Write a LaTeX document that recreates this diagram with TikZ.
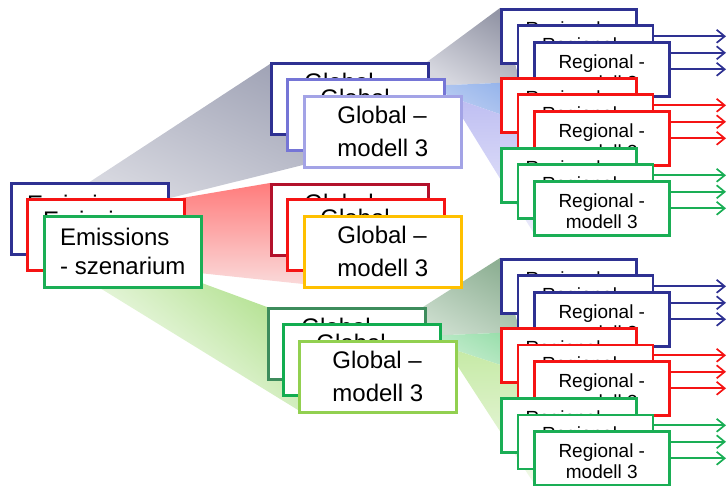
\documentclass[tikz,border=0pt]{standalone}
\usepackage{fontspec}
\setmainfont{Liberation Sans}
\usetikzlibrary{arrows.meta}

% stroke colours
\definecolor{navy}{HTML}{2E3192}
\definecolor{periw}{HTML}{7575D6}
\definecolor{lavb}{HTML}{A3A3E6}
\definecolor{crimson}{HTML}{B3112B}
\definecolor{rred}{HTML}{F51414}
\definecolor{gold}{HTML}{FFC000}
\definecolor{dgreen}{HTML}{3D8C5C}
\definecolor{mgreen}{HTML}{12AD50}
\definecolor{lgreen}{HTML}{92D050}
\definecolor{rgreen}{HTML}{1AAE55}
% fan colours
\definecolor{fanGrayA}{HTML}{A2A5B7}
\definecolor{fanGrayB}{HTML}{D6D7DF}
\definecolor{fanRedA}{HTML}{FF7C7C}
\definecolor{fanRedB}{HTML}{FAD9D9}
\definecolor{fanGreenA}{HTML}{ADDF88}
\definecolor{fanBlueA}{HTML}{8FB0EA}
\definecolor{fanBlueB}{HTML}{C8D6F4}
\definecolor{fanLavA}{HTML}{BFBFF2}
\definecolor{fanLavB}{HTML}{EBEBFB}
\definecolor{fanDkGrA}{HTML}{8DAF93}
\definecolor{fanDkGrB}{HTML}{CADCCC}
\definecolor{fanMdGrA}{HTML}{92DCA6}
\definecolor{fanMdGrB}{HTML}{D6F2DC}
\definecolor{fanLtGrA}{HTML}{C6EAA6}
\definecolor{fanLtGrB}{HTML}{F1F9E9}

\pgfdeclarelayer{fans}
\pgfdeclarelayer{links}
\pgfsetlayers{fans,links,main}

\tikzset{
  box/.style={draw, fill=white, line width=2.6pt, anchor=north west, inner sep=0pt},
  bigbox/.style={box, minimum width=157pt, minimum height=71pt, align=left,
    font={\fontsize{24}{29}\selectfont}},
  globbox/.style={bigbox, font={\fontsize{24}{33}\selectfont}},
  regbox/.style={box, minimum width=135pt, minimum height=54pt, align=center,
    font={\fontsize{19}{21}\selectfont}},
  flow/.style={line width=1.7pt, -{Straight Barb[length=8pt,width=13pt,line width=1.7pt]}},
  fan/.style={draw=none},
}

\begin{document}
\begin{tikzpicture}[x=1pt, y=-1pt]
\useasboundingbox (0,0) rectangle (728,486);
\coordinate (tip) at (726,0);

% ---------- shaded fans behind the boxes ----------
\begin{pgfonlayer}{fans}
  % scenario -> global stack (top)
  \shade[fan, top color=fanGrayA, bottom color=fanGrayB, shading angle=-25]
    (85,185) -- (270,64) -- (320,100) -- (320,160) -- (303,165) -- (170,198) -- cycle;
  % scenario -> global stack (middle)
  \shade[fan, top color=fanRedA, bottom color=fanRedB]
    (170,200) -- (270,183) -- (320,220) -- (320,280) -- (303,284) -- (180,271) -- cycle;
  % scenario -> global stack (bottom)
  \shade[fan, top color=fanGreenA, bottom color=white, shading angle=-40]
    (180,275) -- (267,307) -- (320,330) -- (320,400) -- (298,410) -- (95,285) -- cycle;

  % global (top) -> regional stacks
  \shade[fan, top color=fanGrayA!90!black, bottom color=fanGrayB, shading angle=-30]
    (427,62) -- (500,8) -- (520,82) -- (427,86) -- cycle;
  \shade[fan, top color=fanBlueA, bottom color=fanBlueB, shading angle=-30]
    (427,86) -- (520,82) -- (540,128) -- (459,100) -- cycle;
  \shade[fan, top color=fanLavA, bottom color=fanLavB]
    (459,100) -- (540,128) -- (540,200) -- (533,232) -- (459,112) -- cycle;

  % global (bottom) -> regional stacks
  \shade[fan, top color=fanDkGrA, bottom color=fanDkGrB, shading angle=-30]
    (423,307) -- (500,258) -- (520,332) -- (423,336) -- cycle;
  \shade[fan, top color=fanMdGrA, bottom color=fanMdGrB, shading angle=-30]
    (423,336) -- (520,332) -- (540,378) -- (455,350) -- cycle;
  \shade[fan, top color=fanLtGrA, bottom color=fanLtGrB]
    (455,350) -- (540,378) -- (540,450) -- (533,482) -- (455,362) -- cycle;
\end{pgfonlayer}

% ---------- emission scenarios ----------
\node[bigbox, draw=navy]   (e1) at (10,182) {Emissions\\- szenarium};
\node[bigbox, draw=rred]   (e2) at (26,198) {Emissions\\- szenarium};
\node[bigbox, draw=rgreen] (e3) at (43,215) {Emissions\\- szenarium};

% ---------- global models ----------
\node[globbox, draw=navy]  (ga1) at (270,62) {Global --\\modell 3};
\node[globbox, draw=periw] (ga2) at (286,78) {Global --\\modell 3};
\node[globbox, draw=lavb]  (ga3) at (303,95) {Global --\\modell 3};

\node[globbox, draw=crimson] (gb1) at (270,183) {Global --\\modell 3};
\node[globbox, draw=rred]    (gb2) at (286,198) {Global --\\modell 3};
\node[globbox, draw=gold]    (gb3) at (303,215) {Global --\\modell 3};

\node[globbox, draw=dgreen] (gc1) at (267,307) {Global --\\modell 3};
\node[globbox, draw=mgreen] (gc2) at (282,323) {Global --\\modell 3};
\node[globbox, draw=lgreen] (gc3) at (298,340) {Global --\\modell 3};

% ---------- regional models with their outputs ----------
\foreach \g/\dy in {t/0, b/250}{
  \foreach \c/\col/\sy in {b/navy/8, r/rred/77, g/rgreen/147}{
    \foreach \i/\o in {1/0, 2/16.5, 3/33}{
      \node[regbox, draw=\col] (r\g\c\i) at (500+\o, \sy+\dy+\o)
        {\rule{0pt}{19pt}Regional -\\modell 3};
      \begin{pgfonlayer}{links}
        \draw[flow, \col] (r\g\c\i.east) -- (r\g\c\i.east -| tip);
      \end{pgfonlayer}
    }
  }
}
\end{tikzpicture}
\end{document}
